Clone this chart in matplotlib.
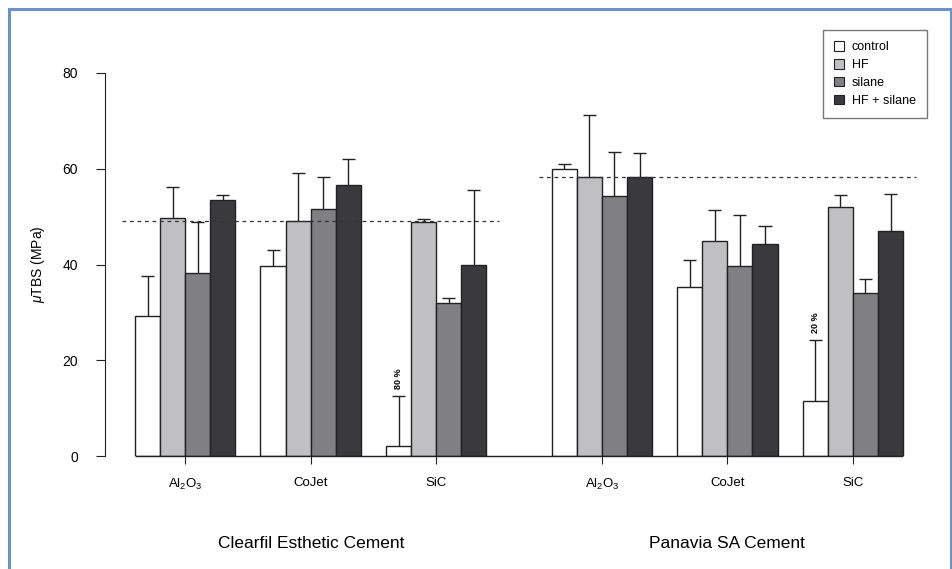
import matplotlib
matplotlib.use("Agg")
import matplotlib.pyplot as plt
from matplotlib.patches import Patch
from matplotlib.lines import Line2D
import numpy as np

plt.rcParams['font.family'] = ['Liberation Sans', 'DejaVu Sans']
plt.rcParams['mathtext.fontset'] = 'custom'
plt.rcParams['mathtext.rm'] = 'Liberation Sans'
plt.rcParams['mathtext.it'] = 'Liberation Sans:italic'

# ---- data ----
cements = ["Clearfil Esthetic Cement", "Panavia SA Cement"]
substrates = ["Al$_2$O$_3$", "CoJet", "SiC"]
treatments = ["control", "HF", "silane", "HF + silane"]
colors = ["#ffffff", "#c0c0c2", "#808082", "#3a3a3c"]

# means[cement][substrate][treatment]
clearfil_means = [[29.3, 49.8, 38.2, 53.5],
                  [39.6, 49.0, 51.6, 56.7],
                  [2.0, 48.8, 32.0, 40.0]]
clearfil_upper = [[37.5, 56.1, 48.8, 54.6],
                  [43.0, 59.2, 58.3, 62.0],
                  [12.5, 49.6, 33.0, 55.5]]
panavia_means = [[60.0, 58.2, 54.4, 58.3],
                 [35.4, 45.0, 39.7, 44.2],
                 [11.5, 52.0, 34.0, 47.0]]
panavia_upper = [[61.0, 71.3, 63.5, 63.3],
                 [41.0, 51.4, 50.3, 48.0],
                 [24.2, 54.6, 37.0, 54.8]]
reference_lines = [49.0, 58.3]
failure_notes = {(0, 2): "80 %", (1, 2): "20 %"}

means = [clearfil_means, panavia_means]
uppers = [clearfil_upper, panavia_upper]

# ---- layout ----
W, H = 953, 569
fig = plt.figure(figsize=(W / 100, H / 100), dpi=100)
px_unit = 25.1
x0_px = 135
ax_left_px, ax_right_px = 105, 940
y0_px, y80_px = 456, 73
ax = fig.add_axes([ax_left_px / W, (H - y0_px) / H,
                   (ax_right_px - ax_left_px) / W, (y0_px - y80_px) / H])
ax.set_xlim((ax_left_px - x0_px) / px_unit, (ax_right_px - x0_px) / px_unit)
ax.set_ylim(0, 80)

cement_starts = [0.0, 16.6]
group_step = 5
edge = "#222222"
tick_pos, tick_lab = [], []
for c in range(2):
    for s in range(3):
        gstart = cement_starts[c] + s * group_step
        tick_pos.append(gstart + 2)
        tick_lab.append(substrates[s])
        for t in range(4):
            x = gstart + t
            v = means[c][s][t]
            u = uppers[c][s][t]
            ax.vlines(x + 0.5, v, u, color=edge, lw=1, zorder=1)
            ax.hlines(u, x + 0.5 - 0.26, x + 0.5 + 0.26, color=edge, lw=1, zorder=1)
            ax.bar(x, v, width=1, align='edge', color=colors[t], edgecolor=edge,
                   linewidth=1, zorder=2)
        if (c, s) in failure_notes:
            ax.text(gstart + 0.5, uppers[c][s][0] + 1.5, failure_notes[(c, s)],
                    rotation=90, ha='center', va='bottom', fontsize=6.5,
                    fontweight='bold')
    lo = cement_starts[c] - 0.5
    hi = cement_starts[c] + 14.5
    ax.hlines(reference_lines[c], lo, hi, colors='#333333', linestyles=(0, (3, 3)),
              lw=0.9, zorder=3)

# baseline
ax.hlines(0, cement_starts[0], cement_starts[1] + 14, color=edge, lw=1, zorder=3,
          clip_on=False)

for sp in ['top', 'right', 'bottom']:
    ax.spines[sp].set_visible(False)
ax.spines['left'].set_bounds(0, 80)
ax.spines['left'].set_color('#222222')
ax.set_yticks([0, 20, 40, 60, 80])
ax.tick_params(axis='y', length=6.5, pad=13, labelsize=10, color='#222222')
ax.set_xticks(tick_pos)
ax.set_xticklabels(tick_lab)
ax.tick_params(axis='x', length=6, pad=9, labelsize=9.5, color='#222222')
ax.set_ylabel("$\\mathit{\\mu}$TBS (MPa)", fontsize=10)
ax.yaxis.set_label_coords(-0.07, 0.5)

for c in range(2):
    cx = cement_starts[c] + 7
    ax.text(cx, -18.2, cements[c], ha='center', va='center', fontsize=12.5,
            transform=ax.transData)

handles = [Patch(facecolor=colors[i], edgecolor=edge, linewidth=0.8, label=treatments[i])
           for i in range(4)]
leg = fig.legend(handles=handles, loc='upper left',
                 bbox_to_anchor=(823 / W, 1 - 30 / H), fontsize=9,
                 frameon=True, fancybox=False, edgecolor='#555555',
                 handlelength=0.8, handleheight=0.8, handletextpad=0.6,
                 labelspacing=0.45, borderpad=0.9, borderaxespad=0)
leg.get_frame().set_linewidth(1)

# blue outer frame
blue = '#6a93c8'
fig.add_artist(Line2D([9.5 / W, 9.5 / W], [0, 1 - 8.5 / H], color=blue, lw=2.2,
                      transform=fig.transFigure))
fig.add_artist(Line2D([9.5 / W, 951 / W], [1 - 8.5 / H, 1 - 8.5 / H], color=blue,
                      lw=2.2, transform=fig.transFigure))
fig.add_artist(Line2D([951 / W, 951 / W], [0, 1 - 8.5 / H], color=blue, lw=2.2,
                      transform=fig.transFigure))

fig.savefig("out.png", dpi=100)
